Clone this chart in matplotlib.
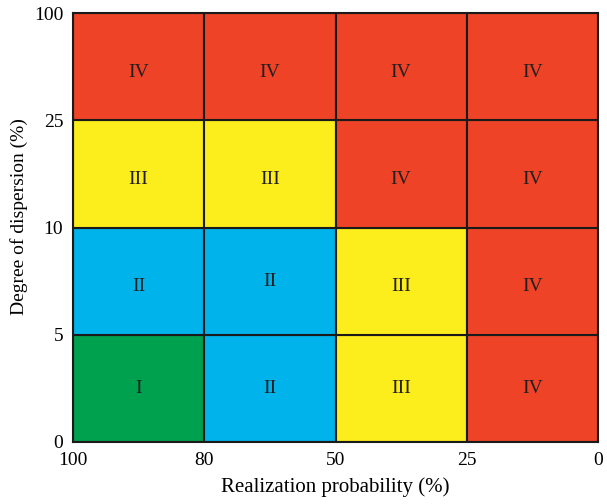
import matplotlib
matplotlib.use("Agg")
import matplotlib.pyplot as plt
import matplotlib.transforms as mtransforms
import numpy as np

x_ticks = ["100", "80", "50", "25", "0"]
y_ticks = ["0", "5", "10", "25", "100"]
# grade grid, rows bottom->top, columns left->right
grades = [
    ["I", "II", "III", "IV"],
    ["II", "II", "III", "IV"],
    ["III", "III", "IV", "IV"],
    ["IV", "IV", "IV", "IV"],
]
grade_colors = {"I": "#00A14E", "II": "#00B3EB", "III": "#FCEE1C", "IV": "#EE4326"}

plt.rcParams['font.family'] = ['Liberation Serif', 'DejaVu Serif']

fig = plt.figure(figsize=(6.07, 5.04), dpi=100)
ax = fig.add_axes([73/607, 1 - 442/504, 525/607, 429/504])

# small vertical label offsets (points) per row, bottom->top
row_shift = [0, -4, -4, -4.5]
for r, row in enumerate(grades):
    for c, g in enumerate(row):
        ax.add_patch(plt.Rectangle((c, r), 1, 1, facecolor=grade_colors[g],
                                   edgecolor="#1a1a1a", linewidth=1.5))
        dy = row_shift[r] if not (r == 1 and c == 1) else -0.5
        tr = ax.transData + mtransforms.ScaledTranslation(0, dy / 72, fig.dpi_scale_trans)
        ax.text(c + 0.5, r + 0.5, g, ha="center", va="center", fontsize=14,
                color="#231f20", transform=tr)

ax.set_xlim(0, 4)
ax.set_ylim(0, 4)
ax.set_xticks(np.arange(len(x_ticks)))
ax.set_xticklabels(x_ticks, fontsize=14)
ax.set_yticks(np.arange(len(y_ticks)))
ax.set_yticklabels(y_ticks, fontsize=14)
ax.tick_params(length=0, pad=7)
for s in ax.spines.values():
    s.set_linewidth(1.5)
    s.set_color("#1a1a1a")
ax.set_xlabel("Realization probability (%)", fontsize=15, labelpad=6)
ax.set_ylabel("Degree of dispersion (%)", fontsize=14)
ax.yaxis.set_label_coords(-0.085, 0.525)

fig.savefig("out.png", dpi=100)
